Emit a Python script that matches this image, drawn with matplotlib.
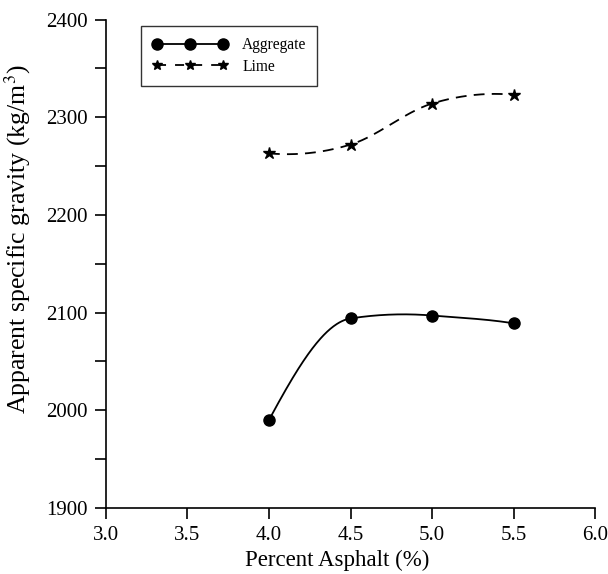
import numpy as np
import matplotlib
matplotlib.use("Agg")
import matplotlib.pyplot as plt

plt.rcParams['font.family'] = ['Liberation Serif', 'DejaVu Serif']
plt.rcParams['mathtext.fontset'] = 'stix'

asphalt = [4.0, 4.5, 5.0, 5.5]
aggregate = [1990, 2094, 2097, 2089]
lime = [2263, 2272, 2314, 2323]
xticks = [3.0, 3.5, 4.0, 4.5, 5.0, 5.5, 6.0]
yticks = [1900, 2000, 2100, 2200, 2300, 2400]


def akima(x, y, n=300):
    x = np.asarray(x, float); y = np.asarray(y, float)
    d = np.diff(y) / np.diff(x)
    m = np.concatenate([[3 * d[0] - 2 * d[1], 2 * d[0] - d[1]], d,
                        [2 * d[-1] - d[-2], 3 * d[-1] - 2 * d[-2]]])
    t = np.zeros(len(x))
    for i in range(len(x)):
        mm2, mm1, m0, m1 = m[i], m[i + 1], m[i + 2], m[i + 3]
        w1 = abs(m1 - m0); w2 = abs(mm1 - mm2)
        t[i] = (mm1 + m0) / 2 if w1 + w2 == 0 else (w1 * mm1 + w2 * m0) / (w1 + w2)
    xs = np.linspace(x[0], x[-1], n)
    idx = np.clip(np.searchsorted(x, xs) - 1, 0, len(x) - 2)
    h = x[idx + 1] - x[idx]
    s = (xs - x[idx]) / h
    h00 = 2 * s ** 3 - 3 * s ** 2 + 1
    h10 = s ** 3 - 2 * s ** 2 + s
    h01 = -2 * s ** 3 + 3 * s ** 2
    h11 = s ** 3 - s ** 2
    ys = h00 * y[idx] + h10 * h * t[idx] + h01 * y[idx + 1] + h11 * h * t[idx + 1]
    return xs, ys


fig = plt.figure(figsize=(6.08, 5.74), dpi=100)
ax = fig.add_axes([0.174, 0.115, 0.805, 0.851])

xa, ya = akima(asphalt, aggregate)
xl, yl = akima(asphalt, lime)
ax.plot(xa, ya, '-', color='black', lw=1.3)
ax.plot(xl, yl, color='black', lw=1.3, dashes=(6, 4))
ax.plot(asphalt, aggregate, 'o', color='black', ms=8, ls='none')
ax.plot(asphalt, lime, '*', color='black', ms=9, ls='none')

# legend handles
h1, = ax.plot([], [], '-o', color='black', ms=8, lw=1.3)
h2, = ax.plot([], [], '--*', color='black', ms=7, lw=1.3, dashes=(5, 5))
leg = ax.legend([h1, h2], ['Aggregate', 'Lime'], loc='upper left', bbox_to_anchor=(0.072, 0.986),
                borderaxespad=0, numpoints=3, handlelength=4.9, fontsize=11.2, frameon=True,
                fancybox=False, edgecolor='black', borderpad=0.7, labelspacing=0.35,
                handletextpad=0.9)
leg.get_frame().set_linewidth(1.0)

ax.set_xlim(3.0, 6.0)
ax.set_ylim(1900, 2400)
ax.set_xticks(xticks)
ax.set_xticklabels([f"{v:.1f}" for v in xticks])
ax.set_yticks(yticks)
ax.set_yticks([1950, 2050, 2150, 2250, 2350], minor=True)
ax.tick_params(axis='both', which='both', direction='out', length=8, width=1.2, labelsize=15,
               pad=5)
for s in ['top', 'right']:
    ax.spines[s].set_visible(False)
for s in ['left', 'bottom']:
    ax.spines[s].set_linewidth(1.2)

ax.set_xlabel('Percent Asphalt (%)', fontsize=16.5)
ax.set_ylabel('Apparent specific gravity (kg/m$^3$)', fontsize=18.5)
ax.xaxis.set_label_coords(0.472, -0.085)
ax.yaxis.set_label_coords(-0.148, 0.55)

fig.savefig('out.png', dpi=100)
